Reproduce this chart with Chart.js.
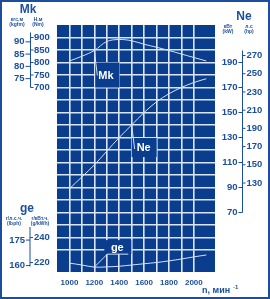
<!DOCTYPE html>
<html>
<head>
<meta charset="utf-8">
<script src="https://cdn.jsdelivr.net/npm/chart.js@4/dist/chart.umd.min.js"></script>
<style>
  html, body { margin: 0; padding: 0; background: #fff; }
  #wrap { position: relative; width: 270px; height: 299px; }
  #frame { position: absolute; left: 0; top: 0; width: 270px; height: 299px; box-sizing: border-box; border: 2px solid #1c4e9e; pointer-events: none; }
  canvas { position: absolute; left: 0; top: 0; }
</style>
</head>
<body>
<div id="wrap">
  <canvas id="chart" width="270" height="299"></canvas>
  <div id="frame"></div>
</div>
<script>
// engine speed, min-1
const rpm = [1000, 1100, 1200, 1300, 1400, 1500, 1600, 1700, 1800, 1900, 2000, 2100];
// torque Mk, N.m
const torque = [806, 825, 848, 884, 892, 887, 873, 861, 848, 834, 820, 806];
// power Ne, kW
const power = [89, 98.5, 108, 119, 130, 140, 150, 158.5, 165, 170, 174, 177];
// specific consumption ge, g/kWh
const fuel = [219.5, 218, 216.3, 216.5, 217, 218, 219, 220, 221.3, 222.8, 224.5, 226];

const xLabels = [1000, 1200, 1400, 1600, 1800, 2000];
const nmTicks = [900, 850, 800, 750, 700];
const kgfTicks = [90, 85, 80, 75];
const kwTicks = [190, 170, 150, 130, 110, 90, 70];
const hpTicks = [270, 250, 230, 210, 190, 170, 150, 130];
const gkwhTicks = [240, 220];
const ghphTicks = [175, 160];

const BLUE = '#0b3d8f';
const INK = '#1c4e9e';
const GRID = '#dbe6f5';
const LINE = '#d2e2f6';
const FONT = '"Liberation Sans", Arial, sans-serif';

const pts = ys => rpm.map((r, i) => ({ x: r, y: ys[i] }));

function txt(ctx, s, x, y, size, align, color) {
    ctx.font = `bold ${size}px ${FONT}`;
    ctx.textAlign = align || 'center';
    ctx.textBaseline = 'middle';
    ctx.fillStyle = color || INK;
    ctx.fillText(s, x, y);
}

function seg(ctx, x1, y1, x2, y2, color, w) {
    ctx.beginPath();
    ctx.moveTo(x1, y1);
    ctx.lineTo(x2, y2);
    ctx.strokeStyle = color || INK;
    ctx.lineWidth = w || 1;
    ctx.stroke();
}

const decor = {
    id: 'decor',
    beforeDraw(chart) {
        const { ctx, chartArea: a } = chart;
        ctx.save();
        ctx.fillStyle = BLUE;
        ctx.fillRect(a.left, a.top, a.right - a.left, a.bottom - a.top);
        ctx.restore();
    },
    afterDatasetsDraw(chart) {
        const { ctx } = chart;
        const s = chart.scales;
        ctx.save();

        // curve labels with leaders
        const mk = chart.getDatasetMeta(0).data[2];
        const ne = chart.getDatasetMeta(1).data[5];
        const ge = chart.getDatasetMeta(2).data[2];
        ctx.fillStyle = BLUE;
        ctx.fillRect(mk.x + 1, mk.y + 12, 24, 25);
        ctx.fillRect(ne.x, ne.y + 13, 25, 19);
        ctx.fillRect(ge.x + 10, ge.y - 27, 27, 14);
        seg(ctx, mk.x, mk.y, mk.x + 3, mk.y + 25, LINE, 1);
        seg(ctx, ne.x, ne.y, ne.x + 3, ne.y + 24, LINE, 1);
        seg(ctx, ge.x, ge.y, ge.x + 13, ge.y - 13, LINE, 1);
        seg(ctx, ge.x + 13, ge.y - 13, ge.x + 34, ge.y - 13, LINE, 1);
        txt(ctx, 'Mk', mk.x + 4, mk.y + 25, 11, 'left', '#fff');
        txt(ctx, 'Ne', ne.x + 5, ne.y + 23, 11, 'left', '#fff');
        txt(ctx, 'ge', ge.x + 23, ge.y - 19, 11, 'center', '#fff');

        // Mk axis
        const yNm = s.yNm;
        const mx = 30.5;
        txt(ctx, 'Mk', 28, 10, 12);
        txt(ctx, 'кгс.м', 17, 20, 5);
        txt(ctx, '(kgfm)', 17, 25, 5);
        txt(ctx, 'Н.м', 38, 20, 5);
        txt(ctx, '(Nm)', 38, 25, 5);
        seg(ctx, mx, yNm.getPixelForValue(nmTicks[0]) - 5, mx, yNm.getPixelForValue(nmTicks[nmTicks.length - 1]));
        nmTicks.forEach(v => {
            const y = yNm.getPixelForValue(v);
            seg(ctx, mx, y, mx + 3, y);
            txt(ctx, String(v), mx + 3.5, y, 9.5, 'left');
        });
        kgfTicks.forEach(v => {
            const y = yNm.getPixelForValue(v * 9.80665);
            seg(ctx, mx - 5, y, mx, y);
            txt(ctx, String(v), mx - 6, y, 9.5, 'right');
        });

        // Ne axis
        const yKw = s.yKw, yHp = s.yHp;
        const nx = 242.5;
        txt(ctx, 'Ne', 244, 17, 12);
        txt(ctx, 'кВт', 228, 27, 5);
        txt(ctx, '(kW)', 228, 32, 5);
        txt(ctx, 'л.с', 249, 27, 5);
        txt(ctx, '(hp)', 249, 32, 5);
        seg(ctx, nx, yHp.getPixelForValue(hpTicks[0]) - 5, nx, yKw.getPixelForValue(kwTicks[kwTicks.length - 1]));
        kwTicks.forEach(v => {
            const y = yKw.getPixelForValue(v);
            seg(ctx, nx - 4, y, nx, y);
            txt(ctx, String(v), nx - 5, y, 9.5, 'right');
        });
        hpTicks.forEach(v => {
            const y = yHp.getPixelForValue(v);
            seg(ctx, nx, y, nx + 3, y);
            txt(ctx, String(v), nx + 4, y, 9.5, 'left');
        });

        // ge axis
        const yGe = s.yGe;
        const gx = 30;
        txt(ctx, 'ge', 27, 209, 12);
        txt(ctx, 'г/л.с.ч.', 14, 219, 5);
        txt(ctx, '(lbph)', 14, 224, 5);
        txt(ctx, 'г/кВт.ч.', 40, 219, 5);
        txt(ctx, '(g/kWh)', 40, 224, 5);
        const gBottom = yGe.getPixelForValue(ghphTicks[ghphTicks.length - 1] / 0.7355);
        seg(ctx, gx, 227, gx, gBottom + 1);
        gkwhTicks.forEach(v => {
            const y = yGe.getPixelForValue(v);
            seg(ctx, gx, y, gx + 3, y);
            txt(ctx, String(v), gx + 4, y, 9.5, 'left');
        });
        ghphTicks.forEach(v => {
            const y = yGe.getPixelForValue(v / 0.7355);
            seg(ctx, gx - 4, y, gx, y);
            txt(ctx, String(v), gx - 5, y, 9.5, 'right');
        });

        // x axis title
        txt(ctx, 'n, мин', 202, 291, 9, 'left');
        txt(ctx, '-1', 233, 287, 6, 'left');
        ctx.restore();
    }
};

const edgeHidden = (lo, hi) => c => (c.tick && (c.tick.value <= lo || c.tick.value >= hi)) ? 'rgba(0,0,0,0)' : GRID;

const lineStyle = { borderColor: LINE, borderWidth: 1, pointRadius: 0, tension: 0.35, fill: false };

new Chart(document.getElementById('chart'), {
    type: 'line',
    data: {
        datasets: [
            { label: 'Mk', data: pts(torque), yAxisID: 'yNm', ...lineStyle },
            { label: 'Ne', data: pts(power), yAxisID: 'yKw', ...lineStyle },
            { label: 'ge', data: pts(fuel), yAxisID: 'yGe', ...lineStyle }
        ]
    },
    options: {
        responsive: false,
        animation: false,
        layout: { padding: { left: 57, top: 25, right: 55, bottom: 0 } },
        plugins: { legend: { display: false }, tooltip: { enabled: false } },
        scales: {
            x: {
                type: 'linear', min: 900, max: 2170,
                border: { display: false },
                grid: { color: edgeHidden(900, 2170), lineWidth: 1.6, drawTicks: false },
                ticks: {
                    stepSize: 100, autoSkip: false, maxRotation: 0, padding: 6,
                    color: INK, font: { family: FONT, size: 8, weight: 'bold' },
                    callback: v => xLabels.includes(v) ? String(v) : ''
                },
                afterFit: sc => { sc.height = 27; }
            },
            yNm: {
                position: 'left', min: -38, max: 950,
                border: { display: false },
                grid: { color: edgeHidden(-38, 950), lineWidth: 1.6, drawTicks: false },
                ticks: { display: false, stepSize: 50, autoSkip: false },
                afterFit: sc => { sc.width = 0; }
            },
            yKw: { display: false, min: 22.4, max: 220 },
            yHp: { display: false, min: 32.3, max: 303.5 },
            yGe: { display: false, min: 212.4, max: 410 }
        }
    },
    plugins: [decor]
});
</script>
</body>
</html>
